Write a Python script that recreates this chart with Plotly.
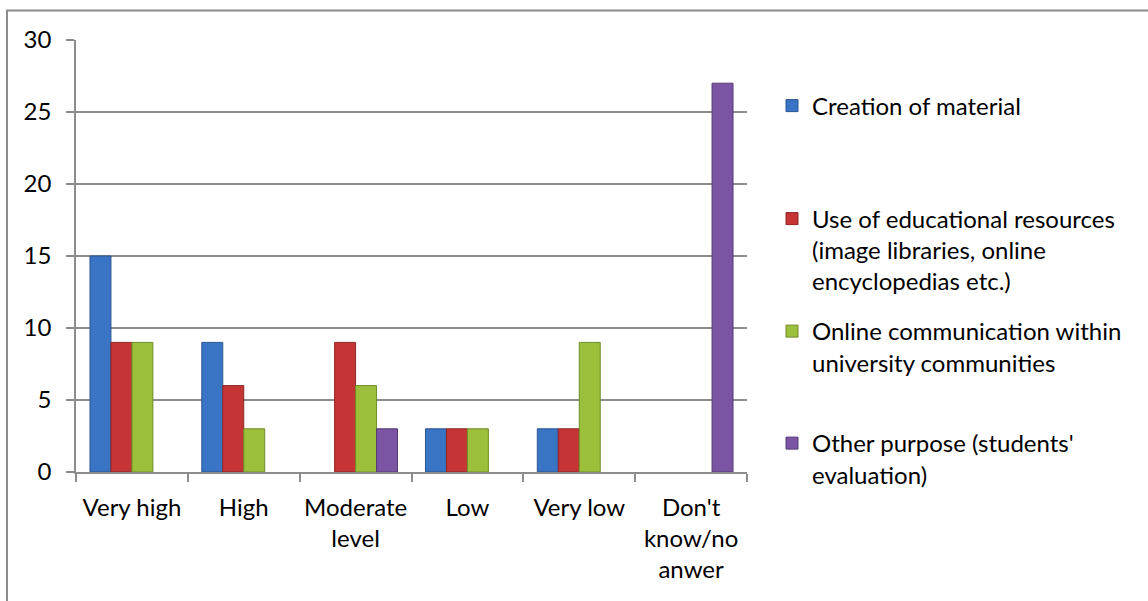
import plotly.graph_objects as go

categories = ["Very high", "High", "Moderate<br>level", "Low", "Very low", "Don't<br>know/no<br>anwer"]
series_names = [
    "Creation of material",
    "Use of educational resources<br>(image libraries, online<br>encyclopedias etc.)",
    "Online communication within<br>university communities",
    "Other purpose (students'<br>evaluation)",
]
creation = [15, 9, 0, 3, 3, 0]
use_resources = [9, 6, 9, 3, 3, 0]
online_comm = [9, 3, 6, 3, 9, 0]
other_purpose = [0, 0, 3, 0, 0, 27]
y_ticks = [0, 5, 10, 15, 20, 25, 30]

values = [creation, use_resources, online_comm, other_purpose]
colors = ["#3A74C4", "#C63536", "#9CC03C", "#7B55A3"]
edges = ["#2A5590", "#8E2526", "#6F8C27", "#553A75"]
legend_ids = ["legend", "legend2", "legend3", "legend4"]

W, H = 1148, 601
L, R, T, B = 76, 747, 40, 472

def px_x(p):
    return (p - L) / (R - L)

def px_y(p):
    return (B - p) / (B - T)

fig = go.Figure()
for name, vals, c, e, lg in zip(series_names, values, colors, edges, legend_ids):
    fig.add_trace(go.Bar(
        x=categories, y=[v if v else None for v in vals], name=name,
        marker=dict(color=c, line=dict(color=e, width=1)),
        legend=lg,
    ))

font = dict(family="Lato, Carlito, Calibri, sans-serif", size=24, color="#000000")
leg_common = dict(
    xanchor="left", yanchor="middle", bgcolor="rgba(0,0,0,0)",
    font=font, itemwidth=30, valign="top", itemclick=False,
)
legend_centers = [106, 250, 347, 459]
layout_legends = {}
for lg, cy in zip(legend_ids, legend_centers):
    layout_legends[lg] = dict(x=px_x(772), y=px_y(cy), **leg_common)

fig.update_layout(
    width=W, height=H,
    margin=dict(l=L, r=W - R, t=T, b=H - B, autoexpand=False),
    paper_bgcolor="white", plot_bgcolor="white",
    barmode="group", bargap=0.25, bargroupgap=0,
    font=font,
    showlegend=True,
    xaxis=dict(
        type="category", showgrid=False, showline=True, linecolor="#8C8C8C", linewidth=1.5,
        ticks="outside", tickson="boundaries", ticklen=8, tickcolor="#8C8C8C", tickwidth=1.5,
        tickfont=font, ticklabelstandoff=13, tickangle=0, automargin=False, fixedrange=True,
    ),
    yaxis=dict(
        range=[0, 30], tickvals=y_ticks, showgrid=True, gridcolor="#8C8C8C", gridwidth=1.5,
        showline=True, linecolor="#8C8C8C", linewidth=1.5, zeroline=False,
        ticks="outside", ticklen=8, tickcolor="#8C8C8C", tickwidth=1.5,
        tickfont=font, ticklabelstandoff=10, automargin=False, fixedrange=True,
    ),
    shapes=[dict(
        type="rect", xref="paper", yref="paper",
        x0=px_x(7), x1=px_x(1160), y0=px_y(615), y1=px_y(10.5),
        line=dict(color="#8C8C8C", width=2), fillcolor="rgba(0,0,0,0)", layer="below",
    )],
    **layout_legends,
)

fig.write_html("out.html", config={"displayModeBar": False},
               post_script="document.body.style.margin='0';")
